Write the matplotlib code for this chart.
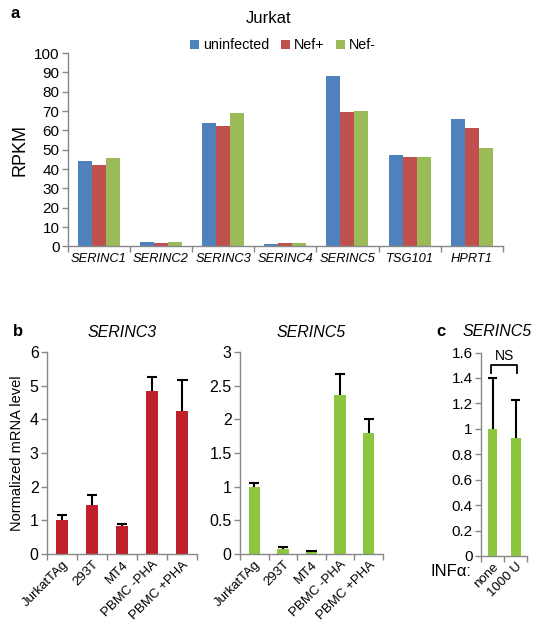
"""Jurkat RPKM and normalized SERINC3/SERINC5 mRNA levels."""

import matplotlib

matplotlib.use("Agg")
import matplotlib.pyplot as plt
import numpy as np

plt.rcParams["font.family"] = ["Liberation Sans", "DejaVu Sans"]

# Panel a: RNA-seq RPKM in Jurkat cells
genes = ["SERINC1", "SERINC2", "SERINC3", "SERINC4", "SERINC5", "TSG101", "HPRT1"]
uninfected = [44, 2.5, 64, 1.5, 88, 47.5, 66]
nef_plus = [42, 2, 62.5, 1.8, 69.5, 46.5, 61.5]
nef_minus = [45.5, 2.5, 69, 2, 70, 46.5, 51]

# Panel b: normalized mRNA level across cell types
cells = ["JurkatTAg", "293T", "MT4", "PBMC -PHA", "PBMC +PHA"]
serinc3_level = [1.0, 1.47, 0.82, 4.83, 4.25]
serinc3_err = [0.17, 0.27, 0.07, 0.43, 0.92]
serinc5_level = [1.0, 0.08, 0.03, 2.36, 1.8]
serinc5_err = [0.05, 0.02, 0.01, 0.32, 0.2]

# Panel c: SERINC5 with/without interferon alpha
ifn = ["none", "1000 U"]
ifn_level = [1.0, 0.93]
ifn_err = [0.4, 0.3]

BLUE = "#4F81BD"
RED = "#C0504D"
GREEN = "#9BBB59"
DARKRED = "#C0202A"
LGREEN = "#8CC63F"
GRAY = "#888888"


def style_axes(ax, n):
    for side in ["top", "right"]:
        ax.spines[side].set_visible(False)
    for side in ["left", "bottom"]:
        ax.spines[side].set_color(GRAY)
        ax.spines[side].set_linewidth(1.0)
    ax.set_xlim(-0.5, n - 0.5)
    # category ticks sit between bars (spreadsheet style)
    ax.set_xticks(np.arange(n + 1) - 0.5)
    ax.set_xticklabels([])
    ax.set_xticks(np.arange(n), minor=True)
    ax.tick_params(axis="x", which="major", direction="out", length=4,
                   color=GRAY, width=1.0)
    ax.tick_params(axis="x", which="minor", length=0)
    ax.tick_params(axis="y", direction="out", length=4, color=GRAY,
                   width=1.0, pad=2)


def upper_err(ax, x, y, err, cap=0.18):
    # one-sided error bars: stem from the bar top plus a single cap
    x = np.asarray(x, dtype=float)
    top = np.asarray(y) + np.asarray(err)
    ax.vlines(x, y, top, color="black", lw=1.5)
    ax.hlines(top, x - cap, x + cap, color="black", lw=1.5)


def fmt(v):
    return f"{v:g}"


fig = plt.figure(figsize=(5.38, 6.24), dpi=100)

# ---------------- panel a ----------------
ax_a = fig.add_axes([0.126, 0.605, 0.8086, 0.310])
x = np.arange(len(genes))
w = 0.225
ax_a.bar(x - w, uninfected, w, color=BLUE, label="uninfected")
ax_a.bar(x, nef_plus, w, color=RED, label="Nef+")
ax_a.bar(x + w, nef_minus, w, color=GREEN, label="Nef-")
style_axes(ax_a, len(genes))
ax_a.set_ylim(0, 100)
ax_a.set_yticks(np.arange(0, 101, 10))
ax_a.tick_params(axis="y", labelsize=11)
ax_a.set_xticklabels(genes, minor=True, fontsize=9.3, style="italic")
ax_a.tick_params(axis="x", which="minor", pad=5)
ax_a.set_ylabel("RPKM", fontsize=13)
ax_a.yaxis.set_label_coords(-0.09, 0.5)
ax_a.legend(loc="center", bbox_to_anchor=(0.495, 1.04), ncol=3,
            frameon=False, fontsize=10.3, handlelength=0.6, handleheight=0.6,
            handletextpad=0.3, columnspacing=0.8)
fig.text(0.5, 0.971, "Jurkat", ha="center", va="center", fontsize=12)
fig.text(0.019, 0.979, "a", fontsize=12, fontweight="bold", va="center")

# ---------------- panel b ----------------
ax_b1 = fig.add_axes([0.0874, 0.112, 0.279, 0.324])
xb = np.arange(len(cells))
ax_b1.bar(xb, serinc3_level, 0.4, color=DARKRED)
upper_err(ax_b1, xb, serinc3_level, serinc3_err)
style_axes(ax_b1, len(cells))
ax_b1.set_ylim(0, 6)
ax_b1.set_yticks(np.arange(0, 7, 1))
ax_b1.tick_params(axis="y", labelsize=11.5)
ax_b1.set_xticklabels(cells, minor=True, rotation=45, ha="right",
                      rotation_mode="anchor", fontsize=9.5)
ax_b1.set_ylabel("Normalized mRNA level", fontsize=10.5, labelpad=4)
ax_b1.set_title("SERINC3", fontsize=11.5, style="italic", pad=11)

ax_b2 = fig.add_axes([0.446, 0.112, 0.266, 0.324])
ax_b2.bar(xb, serinc5_level, 0.4, color=LGREEN)
upper_err(ax_b2, xb, serinc5_level, serinc5_err)
style_axes(ax_b2, len(cells))
ax_b2.set_ylim(0, 3)
ax_b2.set_yticks(np.arange(0, 3.01, 0.5))
ax_b2.set_yticklabels([fmt(v) for v in np.arange(0, 3.01, 0.5)])
ax_b2.tick_params(axis="y", labelsize=11.5)
ax_b2.set_xticklabels(cells, minor=True, rotation=45, ha="right",
                      rotation_mode="anchor", fontsize=9.5)
ax_b2.set_title("SERINC5", fontsize=11.5, style="italic", pad=11)
fig.text(0.024, 0.468, "b", fontsize=12, fontweight="bold", va="center")

# ---------------- panel c ----------------
ax_c = fig.add_axes([0.894, 0.109, 0.086, 0.326])
xc = np.arange(len(ifn))
ax_c.bar(xc, ifn_level, 0.42, color=LGREEN)
upper_err(ax_c, xc, ifn_level, ifn_err, cap=0.2)
style_axes(ax_c, len(ifn))
ax_c.set_ylim(0, 1.6)
yt = np.arange(0, 1.61, 0.2)
ax_c.set_yticks(yt)
ax_c.set_yticklabels([fmt(round(v, 1)) for v in yt])
ax_c.tick_params(axis="y", labelsize=11)
ax_c.set_xticklabels(ifn, minor=True, rotation=45, ha="right",
                     rotation_mode="anchor", fontsize=9.5)
# NS bracket
ax_c.plot([-0.05, -0.05, 1.05, 1.05], [1.44, 1.50, 1.50, 1.44],
          color="black", lw=1.3, clip_on=False)
ax_c.text(0.5, 1.515, "NS", ha="center", va="bottom", fontsize=10)
ax_c.text(-0.2, -0.075, "INFα:", transform=ax_c.transAxes, ha="right",
          va="center", fontsize=12)
fig.text(0.812, 0.468, "c", fontsize=12, fontweight="bold", va="center")
fig.text(0.924, 0.468, "SERINC5", fontsize=11.5, style="italic",
         ha="center", va="center")

fig.savefig("out.png", dpi=100)
